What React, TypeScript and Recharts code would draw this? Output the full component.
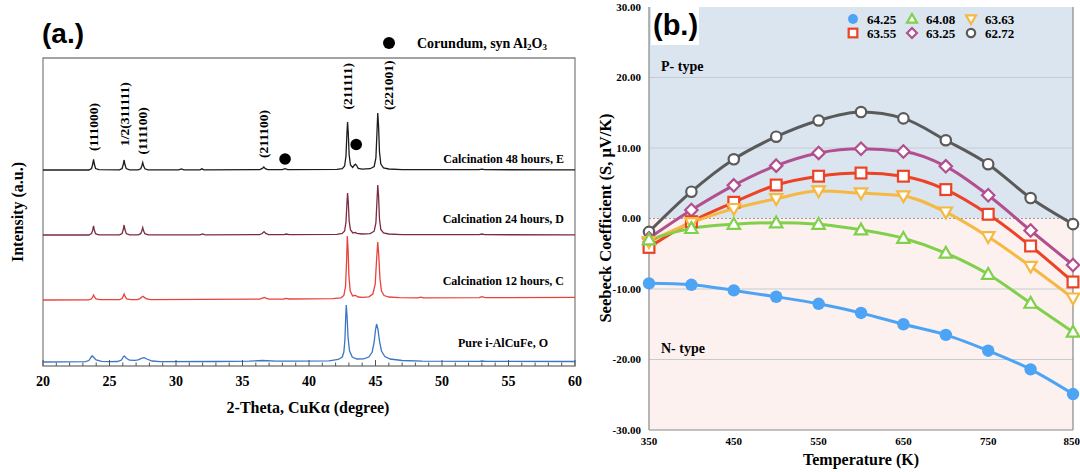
import React from 'react'
import { LineChart, Line, XAxis, YAxis, ReferenceArea, ReferenceLine, ReferenceDot } from 'recharts'

// ---------- (a.) XRD patterns: [2-theta, intensity above the pattern's own baseline] ----------
const xrdE: [number, number][] = [
  [20, 0], [23.45, 0], [23.65, 1.5], [23.74, 6], [23.8, 10.7], [23.86, 6], [23.95, 1.5], [24.2, 0.3],
  [25.75, 0.2], [25.95, 1.5], [26.04, 6], [26.1, 10], [26.16, 5.5], [26.26, 1.4], [26.5, 0.2],
  [27.15, 0.2], [27.35, 1.2], [27.44, 4.5], [27.5, 7.4], [27.56, 4.2], [27.66, 1.2], [27.9, 0.2],
  [30.2, 0.2], [30.4, 1.1], [30.6, 0.2], [31.8, 0.2], [31.95, 1.2], [32.1, 0.2],
  [36.3, 0.3], [36.5, 1.6], [36.6, 3], [36.72, 1.4], [36.9, 0.3], [38.0, 0.3], [38.2, 1.3], [38.4, 0.4],
  [42.1, 0.6], [42.5, 1.4], [42.68, 4], [42.78, 14], [42.85, 36], [42.9, 48], [42.95, 38], [43.02, 15],
  [43.12, 5], [43.28, 2.5], [43.42, 5], [43.5, 5.8], [43.58, 4.5], [43.7, 1.6], [44.0, 0.9], [44.6, 1.3],
  [44.9, 3.5], [45.03, 12], [45.1, 34], [45.17, 57], [45.23, 44], [45.3, 18], [45.4, 6], [45.6, 2.2],
  [46.0, 1.0], [47.0, 0.4], [52.8, 0.3], [53.0, 0.9], [53.2, 0.3], [60, 0.2],
]
const xrdD: [number, number][] = [
  [20, 0], [23.45, 0], [23.65, 1.4], [23.74, 5], [23.8, 9], [23.86, 5], [23.95, 1.3], [24.2, 0.2],
  [25.75, 0.2], [25.95, 1.5], [26.04, 6], [26.1, 10], [26.16, 5.5], [26.26, 1.4], [26.5, 0.2],
  [27.15, 0.2], [27.35, 1.3], [27.44, 4.5], [27.5, 7.4], [27.56, 4.2], [27.66, 1.3], [27.9, 0.2],
  [31.8, 0.2], [32.0, 1.0], [32.2, 0.2], [36.3, 0.3], [36.5, 1.8], [36.62, 3.4], [36.75, 1.6], [36.95, 0.3],
  [38.1, 0.3], [38.3, 1.0], [38.5, 0.3],
  [42.1, 0.6], [42.5, 1.5], [42.68, 4], [42.78, 13], [42.85, 31], [42.9, 42], [42.95, 34], [43.02, 14],
  [43.12, 5], [43.3, 2], [43.48, 2.6], [43.6, 1.6], [44.0, 1.0], [44.6, 1.4], [44.9, 3.8], [45.03, 12],
  [45.1, 31], [45.17, 50], [45.23, 39], [45.3, 16], [45.4, 5.5], [45.6, 2.2], [46.0, 1.0], [47.0, 0.4],
  [52.8, 0.3], [53.0, 1.0], [53.2, 0.3], [60, 0.2],
]
const xrdC: [number, number][] = [
  [20, 0], [23.45, 0.2], [23.65, 1.2], [23.74, 3.2], [23.8, 5], [23.87, 3], [23.98, 1], [24.3, 0.3],
  [25.75, 0.3], [25.95, 1.4], [26.04, 4], [26.1, 6], [26.17, 3.6], [26.3, 1.2], [26.6, 0.4],
  [27.1, 0.4], [27.3, 1.4], [27.45, 3.2], [27.52, 3.7], [27.62, 2.6], [27.8, 1], [28.1, 0.4],
  [32, 0.6], [36.3, 0.8], [36.5, 1.8], [36.65, 2.6], [36.8, 1.6], [37.0, 0.9], [38.1, 1.0], [38.3, 1.6], [38.5, 1.0],
  [41.8, 1.3], [42.4, 2.2], [42.62, 4.5], [42.75, 14], [42.83, 40], [42.88, 64], [42.94, 50], [43.0, 24],
  [43.1, 9], [43.28, 4], [43.45, 4.6], [43.55, 4.2], [43.7, 3], [44.0, 2.6], [44.5, 3.2], [44.8, 6],
  [44.98, 16], [45.08, 40], [45.17, 58], [45.25, 44], [45.33, 22], [45.45, 9], [45.65, 4.5], [46.0, 3.0],
  [46.8, 2.3], [48.2, 2.2], [48.4, 2.8], [48.6, 2.2], [52.8, 2.3], [53.0, 3.4], [53.25, 2.4], [60, 2.6],
]
const xrdO: [number, number][] = [
  [20, 0], [23.2, 0.3], [23.45, 1.5], [23.6, 4.5], [23.7, 6.2], [23.82, 4.5], [24.0, 2], [24.4, 0.6], [25.0, 0.3],
  [25.6, 0.5], [25.9, 2], [26.05, 5.5], [26.12, 6], [26.25, 4], [26.5, 1.8], [26.9, 1.6], [27.15, 2.2],
  [27.45, 3.8], [27.6, 4.3], [27.8, 3], [28.2, 1], [28.8, 0.4],
  [33, 0.5], [35.5, 0.8], [36.5, 1.5], [37.5, 0.8], [39, 0.8], [41.5, 1.2],
  [42.2, 2.5], [42.5, 5], [42.62, 10], [42.7, 22], [42.76, 45], [42.8, 57], [42.86, 46], [42.94, 24],
  [43.05, 11], [43.25, 5], [43.6, 3], [44.1, 3.2], [44.5, 5], [44.75, 10], [44.9, 20], [45.0, 32],
  [45.08, 38], [45.18, 33], [45.3, 21], [45.45, 11], [45.7, 5.5], [46.1, 3], [47, 1.5], [48.5, 0.8],
  [52.8, 0.6], [53, 1], [53.3, 0.6], [60, 0.5],
]
const xrdNames = ['Calcination 48 hours, E', 'Calcination 24 hours, D', 'Calcination 12 hours, C', 'Pure i-AlCuFe, O']
const xrdColors = ['#1c1c1c', '#7b2c40', '#e8423b', '#3a76c2']
const xrdTicks = [20, 25, 30, 35, 40, 45, 50, 55, 60]
const hklLabels = ['(111000)', '1/2(311111)', '(111100)', '(211100)', '(211111)', '(221001)']
const hklAngles = [23.8, 26.1, 27.5, 36.6, 42.9, 45.2]
const corundumAngles = [38.2, 43.55]

// ---------- (b.) Seebeck coefficient vs temperature ----------
const temperatures = [350, 400, 450, 500, 550, 600, 650, 700, 750, 800, 850]
const s6425 = [-9.2, -9.4, -10.2, -11.1, -12.1, -13.4, -15.0, -16.5, -18.75, -21.4, -24.9]
const s6408 = [-3.0, -1.4, -0.8, -0.6, -0.8, -1.6, -2.8, -4.9, -7.9, -12.0, -16.1]
const s6363 = [-3.3, -0.6, 1.4, 2.8, 3.9, 3.6, 3.2, 0.9, -2.6, -6.8, -11.3]
const s6355 = [-4.1, -0.45, 2.3, 4.75, 6.0, 6.45, 6.0, 4.1, 0.6, -3.9, -9.0]
const s6325 = [-2.8, 1.2, 4.7, 7.5, 9.3, 9.9, 9.5, 7.4, 3.3, -1.7, -6.6]
const s6272 = [-1.9, 3.8, 8.4, 11.6, 13.9, 15.1, 14.2, 11.1, 7.7, 2.9, -0.8]
const tempTicks = [350, 450, 550, 650, 750, 850]
const seebeckTicks = [-30, -20, -10, 0, 10, 20, 30]

const serif = "'Liberation Serif', 'Times New Roman', serif"
const sans = "'Liberation Sans', Arial, sans-serif"

// layout of panel (a.): intensity units are px above the frame bottom
const xrdOffsets = [196, 131, 66, 4]
const hklLabelBottom = [215, 220, 211.5, 208, 256.5, 256]
const hklLabelShift = [0, 0, 0, 0, 0, 10]
const corundumY = [207, 221.5]

const seebeckSeries = [
  { name: '64.25', values: s6425, color: '#4ea4f4', shape: 'dot' },
  { name: '64.08', values: s6408, color: '#80d04b', shape: 'triUp' },
  { name: '63.63', values: s6363, color: '#f5b843', shape: 'triDown' },
  { name: '63.55', values: s6355, color: '#ec4226', shape: 'square' },
  { name: '63.25', values: s6325, color: '#b24f8e', shape: 'diamond' },
  { name: '62.72', values: s6272, color: '#5a5a5a', shape: 'circle' },
]
const drawOrder = ['62.72', '63.25', '63.55', '63.63', '64.08', '64.25']

const seebeckRows = temperatures.map((t, i) => {
  const row: Record<string, number> = { t }
  seebeckSeries.forEach((s) => { row[s.name] = s.values[i] })
  return row
})

function Marker({ shape, cx, cy, color, k = 1 }: any) {
  const a = 6.2 * k
  if (shape === 'dot') return <circle cx={cx} cy={cy} r={6.2 * k} fill={color} />
  if (shape === 'circle') return <circle cx={cx} cy={cy} r={5.2 * k} fill="#fff" stroke={color} strokeWidth={2.2} />
  if (shape === 'square') return <rect x={cx - 5.4 * k} y={cy - 5.4 * k} width={10.8 * k} height={10.8 * k} fill="#fff" stroke={color} strokeWidth={2.2} />
  if (shape === 'diamond') return <polygon points={`${cx},${cy - a} ${cx + a},${cy} ${cx},${cy + a} ${cx - a},${cy}`} fill="#fff" stroke={color} strokeWidth={2.2} />
  if (shape === 'triUp') return <polygon points={`${cx},${cy - a} ${cx + a},${cy + a * 0.75} ${cx - a},${cy + a * 0.75}`} fill="#fff" stroke={color} strokeWidth={2.2} />
  return <polygon points={`${cx},${cy + a} ${cx + a},${cy - a * 0.75} ${cx - a},${cy - a * 0.75}`} fill="#fff" stroke={color} strokeWidth={2.2} />
}

const minorTicks = Array.from({ length: 41 }, (_, i) => 20 + i)

const XrdTick = ({ x, y, payload }: any) => {
  const v = payload.value
  const major = xrdTicks.includes(v)
  return (
    <g>
      <line x1={x} x2={x} y1={y} y2={y - (major ? 6 : 3.5)} stroke="#555" strokeWidth={1} />
      {major && (
        <text x={x} y={y + 20} textAnchor="middle" fontFamily={serif} fontWeight="bold" fontSize={14} fill="#000">
          {v}
        </text>
      )}
    </g>
  )
}

function XrdPanel() {
  const patterns = [xrdE, xrdD, xrdC, xrdO]
  return (
    <LineChart width={600} height={472} margin={{ top: 58, right: 25, bottom: 66, left: 43 }}>
      <XAxis
        type="number"
        dataKey="t"
        domain={[20, 60]}
        ticks={minorTicks}
        interval={0}
        tickSize={0}
        tickMargin={0}
        tickLine={false}
        axisLine={false}
        tick={XrdTick}
        height={40}
      />
      <YAxis type="number" domain={[0, 308]} hide width={0} />
      <ReferenceArea x1={20} x2={60} y1={0} y2={308} fill="none" stroke="#858585" strokeWidth={1.3} />
      {patterns.map((p, i) => (
        <Line
          key={xrdNames[i]}
          data={p.map(([t, v]) => ({ t, v: v + xrdOffsets[i] }))}
          dataKey="v"
          type="linear"
          stroke={xrdColors[i]}
          strokeWidth={1.3}
          dot={false}
          isAnimationActive={false}
        />
      ))}
      {hklLabels.map((lab, i) => (
        <ReferenceDot
          key={lab}
          x={hklAngles[i]}
          y={hklLabelBottom[i]}
          r={0}
          shape={(p: any) => (
            <text
              transform={`translate(${p.cx + hklLabelShift[i]},${p.cy}) rotate(-90)`}
              dominantBaseline="central"
              fontFamily={serif}
              fontWeight="bold"
              fontSize={13.5}
              fill="#000"
            >
              {lab}
            </text>
          )}
        />
      ))}
      {corundumAngles.map((a, i) => (
        <ReferenceDot key={a} x={a} y={corundumY[i]} r={5.8} fill="#000" stroke="none" />
      ))}
    </LineChart>
  )
}

function SeebeckPanel() {
  const ordered = drawOrder.map((n) => seebeckSeries.find((s) => s.name === n)!)
  const tickStyle = { fontFamily: serif, fontWeight: 'bold', fontSize: 11, fill: '#000' }
  return (
    <LineChart width={480} height={472} data={seebeckRows} margin={{ top: 7, right: 7, bottom: 0, left: 0 }}>
      <XAxis
        dataKey="t"
        type="number"
        domain={[350, 850]}
        ticks={tempTicks}
        tickLine={false}
        tickSize={0}
        tickMargin={7}
        axisLine={{ stroke: '#888', strokeWidth: 1.2 }}
        height={42}
        tick={tickStyle}
      />
      <YAxis
        type="number"
        domain={[-30, 30]}
        ticks={seebeckTicks}
        tickFormatter={(v: number) => v.toFixed(2)}
        width={49}
        tickLine={false}
        tickSize={0}
        tickMargin={8}
        axisLine={{ stroke: '#888', strokeWidth: 1.2 }}
        tick={tickStyle}
      />
      <ReferenceArea y1={0} y2={30} fill="#dbe5ef" fillOpacity={1} stroke="none" />
      <ReferenceArea y1={-30} y2={0} fill="#fcf1ef" fillOpacity={1} stroke="none" />
      {[-20, -10, 10, 20].map((v) => (
        <ReferenceLine key={v} y={v} stroke="#c6cbd1" strokeWidth={1} />
      ))}
      <ReferenceLine y={0} stroke="#a8948f" strokeDasharray="2 2" strokeWidth={1.2} />
      <ReferenceLine x={850} stroke="#888" strokeWidth={1.2} />
      {ordered.map((s) => (
        <Line
          key={s.name}
          dataKey={s.name}
          type="monotone"
          stroke={s.color}
          strokeWidth={3}
          isAnimationActive={false}
          dot={(p: any) => <Marker key={`${s.name}-${p.index}`} shape={s.shape} cx={p.cx} cy={p.cy} color={s.color} />}
        />
      ))}
    </LineChart>
  )
}

export default function App() {
  const bold = { fontFamily: serif, fontWeight: 'bold' as const, fill: '#000' }
  return (
    <div style={{ position: 'absolute', left: 0, top: 0, width: 1080, height: 472, background: '#fff' }}>
      <div style={{ position: 'absolute', left: 0, top: 0 }}>
        <XrdPanel />
      </div>
      <div style={{ position: 'absolute', left: 600, top: 0 }}>
        <SeebeckPanel />
      </div>
      <svg width={1080} height={472} style={{ position: 'absolute', left: 0, top: 0, pointerEvents: 'none' }}>
        {/* panel (a.) texts */}
        <text x={42} y={43} fontFamily={sans} fontWeight="bold" fontSize={28}>(a.)</text>
        <circle cx={389} cy={43} r={6} fill="#000" />
        <text x={417} y={48} {...bold} fontSize={14}>
          Corundum, syn Al<tspan fontSize={9} dy={2}>2</tspan>
          <tspan dy={-2}>O</tspan>
          <tspan fontSize={9} dy={2}>3</tspan>
        </text>
        {xrdNames.map((n, i) => (
          <text
            key={n}
            x={i === 3 ? 548 : 564}
            y={[158.7, 219, 281, 342.6][i]}
            textAnchor="end"
            dominantBaseline="central"
            {...bold}
            fontSize={12}
          >
            {n}
          </text>
        ))}
        <text transform="translate(17,212) rotate(-90)" textAnchor="middle" dominantBaseline="central" {...bold} fontSize={16}>
          Intensity (a.u.)
        </text>
        <text x={308} y={413} textAnchor="middle" {...bold} fontSize={16}>
          2-Theta, CuKα (degree)
        </text>

        {/* panel (b.) texts */}
        <rect x={651} y={7} width={48} height={38} fill="#fff" />
        <text x={653} y={35} fontFamily={sans} fontWeight="bold" fontSize={29}>(b.)</text>
        <text x={661} y={71} {...bold} fontSize={14}>P- type</text>
        <text x={661} y={353} {...bold} fontSize={14}>N- type</text>
        <text transform="translate(605,218) rotate(-90)" textAnchor="middle" dominantBaseline="central" {...bold} fontSize={16.5}>
          Seebeck Coefficient (S, μV/K)
        </text>
        <text x={861} y={465} textAnchor="middle" {...bold} fontSize={16}>
          Temperature (K)
        </text>
        {seebeckSeries.map((s, i) => {
          const col = i % 3
          const row = Math.floor(i / 3)
          const mx = [853, 912, 971][col]
          const my = [19, 33][row]
          return (
            <g key={s.name}>
              <Marker shape={s.shape} cx={mx} cy={my} color={s.color} k={0.8} />
              <text x={mx + 14} y={my} dominantBaseline="central" {...bold} fontSize={13}>
                {s.name}
              </text>
            </g>
          )
        })}
      </svg>
    </div>
  )
}
